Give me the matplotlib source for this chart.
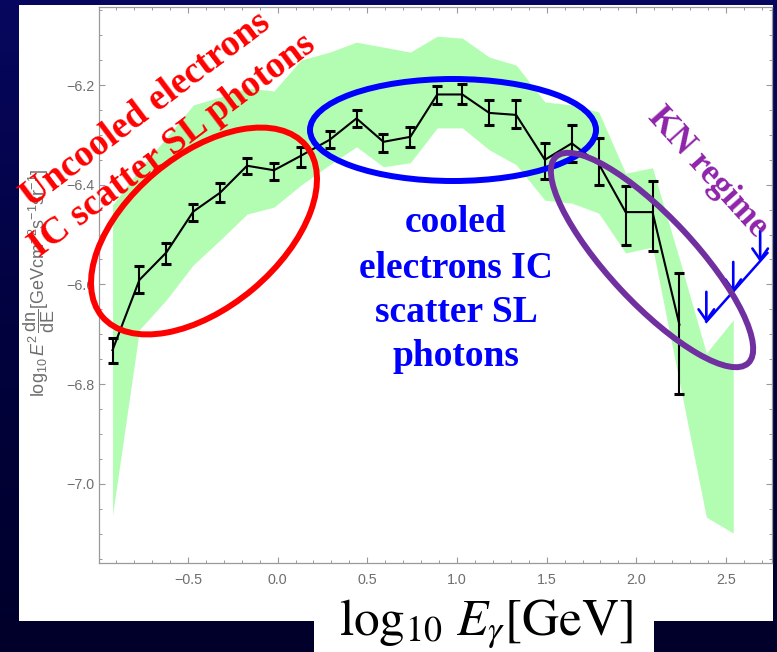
import numpy as np
import matplotlib
matplotlib.use("Agg")
import matplotlib.pyplot as plt
from matplotlib.patches import Ellipse, Rectangle
from matplotlib.colors import LinearSegmentedColormap
from matplotlib.ticker import MultipleLocator

# ---- spectrum points: log10(E/GeV) and log10 E^2 dn/dE with error-bar ends ----
log_e = [-0.92, -0.77, -0.62, -0.47, -0.32, -0.17, -0.02, 0.13, 0.29, 0.44, 0.59,
         0.74, 0.89, 1.03, 1.18, 1.33, 1.49, 1.64, 1.79, 1.94, 2.09, 2.24]
flux = [-6.732, -6.591, -6.536, -6.454, -6.416, -6.362, -6.371, -6.342, -6.310, -6.267, -6.314,
        -6.304, -6.219, -6.219, -6.256, -6.260, -6.350, -6.317, -6.358, -6.455, -6.455, -6.681]
flux_low = [-6.758, -6.617, -6.559, -6.472, -6.434, -6.379, -6.391, -6.364, -6.327, -6.285, -6.335,
            -6.325, -6.239, -6.239, -6.280, -6.287, -6.389, -6.355, -6.401, -6.522, -6.534, -6.820]
flux_high = [-6.708, -6.564, -6.516, -6.439, -6.396, -6.347, -6.356, -6.325, -6.292, -6.250, -6.298,
             -6.285, -6.201, -6.197, -6.231, -6.231, -6.316, -6.280, -6.306, -6.403, -6.393, -6.578]

# ---- model band (upper / lower envelope) ----
band_x = log_e + [2.39, 2.54]
band_upper = [-6.441, -6.369, -6.306, -6.240, -6.224, -6.206, -6.212, -6.150, -6.134, -6.114, -6.124,
              -6.134, -6.102, -6.106, -6.144, -6.160, -6.234, -6.240, -6.254, -6.377, -6.366, -6.549,
              -6.738, -6.671]
band_lower = [-7.063, -6.691, -6.631, -6.561, -6.511, -6.459, -6.445, -6.401, -6.360, -6.324, -6.364,
              -6.356, -6.286, -6.286, -6.330, -6.360, -6.431, -6.437, -6.457, -6.537, -6.525, -6.796,
              -7.067, -7.099]

# ---- upper limits (arrow tips) and the guide line through them ----
ul_x = [2.39, 2.54, 2.69]
ul_y = [-6.677, -6.617, -6.555]
ul_line_x = [2.39, 2.73]
ul_line_y = [-6.675, -6.537]

x_ticks = [-0.5, 0.0, 0.5, 1.0, 1.5, 2.0, 2.5]
y_ticks = [-7.0, -6.8, -6.6, -6.4, -6.2]

W, H = 777, 652
plt.rcParams["mathtext.fontset"] = "custom"
plt.rcParams["mathtext.rm"] = "Liberation Sans"
plt.rcParams["mathtext.it"] = "Liberation Sans:italic"
plt.rcParams["font.family"] = ["Liberation Sans", "DejaVu Sans"]

fig = plt.figure(figsize=(W / 100, H / 100), dpi=100)

# slide background: navy gradient with a white panel
bg = fig.add_axes([0, 0, 1, 1], zorder=0)
grad = np.linspace(0, 1, 256).reshape(-1, 1)
navy = LinearSegmentedColormap.from_list("navy", ["#07075f", "#02023f", "#00002a"])
bg.imshow(grad, aspect="auto", cmap=navy, extent=[0, W, H, 0])
bg.add_patch(Rectangle((19, 5), 754, 616, facecolor="white", edgecolor="none"))
bg.add_patch(Rectangle((314, 615), 340, 40, facecolor="white", edgecolor="none"))
bg.set_xlim(0, W)
bg.set_ylim(H, 0)
bg.axis("off")

# main plot
ax = fig.add_axes([98.7 / W, 1 - 563 / H, (772 - 98.7) / W, (563 - 7) / H], zorder=1)
ax.set_xlim(-0.997, 2.756)
ax.set_ylim(-7.159, -6.0435)

ax.fill_between(band_x, band_lower, band_upper, color="#b3fdb3", lw=0, zorder=1)

f = np.array(flux)
yerr = [f - np.array(flux_low), np.array(flux_high) - f]
ax.errorbar(log_e, flux, yerr=yerr, color="black", lw=1.5, elinewidth=1.5,
            capsize=3.4, capthick=2.2, zorder=3)

ax.plot(ul_line_x, ul_line_y, color="#0000ff", lw=1.8, zorder=4)
for xu, yu in zip(ul_x, ul_y):
    ax.annotate("", xy=(xu, yu), xytext=(xu, yu + 0.062),
                arrowprops=dict(arrowstyle="->,head_length=0.5,head_width=0.35",
                                color="#0000ff", lw=1.9, mutation_scale=16,
                                shrinkA=0, shrinkB=0), zorder=4)

grey = "#6e6e6e"
ax.set_xticks(x_ticks)
ax.set_yticks(y_ticks)
ax.xaxis.set_minor_locator(MultipleLocator(0.1))
ax.yaxis.set_minor_locator(MultipleLocator(0.05))
ax.tick_params(which="both", direction="in", top=True, right=True, color="#9a9a9a",
               labelcolor=grey, labelsize=10.3)
ax.tick_params(which="major", length=4, width=0.8)
ax.tick_params(which="minor", length=2.4, width=0.7)
ax.tick_params(axis="x", pad=7.5)
ax.tick_params(axis="y", pad=3.3)
for s in ax.spines.values():
    s.set_color("#9a9a9a")
    s.set_linewidth(0.9)

ax.set_ylabel(r"$\log_{10}E^{2}\,\dfrac{\mathrm{dn}}{\mathrm{dE}}[\mathrm{GeVcm^{-2}s^{-1}sr^{-1}}]$",
              color=grey, fontsize=13, math_fontfamily="custom", va="center")
ax.yaxis.set_label_coords(-0.088, 0.5036)
ax.set_xlabel(r"$\log_{10}\,E_{\gamma}[\mathrm{GeV}]$", fontsize=37, color="black",
              math_fontfamily="stix", va="center")
ax.xaxis.set_label_coords(0.575, -0.11)

# annotations drawn in figure pixel coordinates
ov = fig.add_axes([0, 0, 1, 1], zorder=2)
ov.set_xlim(0, W)
ov.set_ylim(H, 0)
ov.axis("off")
ov.patch.set_alpha(0)

ov.add_patch(Ellipse((204, 231), 266, 152, angle=-40, fill=False, ec="#ff0000", lw=4.3))
ov.add_patch(Ellipse((453, 130), 286, 102, angle=0, fill=False, ec="#0000ff", lw=4.3))
ov.add_patch(Ellipse((652, 260), 282, 86, angle=47, fill=False, ec="#7030a0", lw=4.3))

serif = dict(family="Liberation Serif", fontweight="bold")
ov.text(146, 110, "Uncooled electrons", color="#ff0000", fontsize=27, rotation=37,
        rotation_mode="anchor", ha="center", va="center", **serif)
ov.text(172, 145, "IC scatter SL photons", color="#ff0000", fontsize=27, rotation=37,
        rotation_mode="anchor", ha="center", va="center", **serif)

for yy, line in zip([222, 268, 312, 357], ["cooled", "electrons IC", "scatter SL", "photons"]):
    ov.text(456, yy, line, color="#0000ff", fontsize=27, ha="center", va="center", **serif)

ov.text(708, 172, "KN regime", color="#8e24aa", fontsize=25, rotation=-48,
        rotation_mode="anchor", ha="center", va="center", **serif)

fig.savefig("out.png", dpi=100)
